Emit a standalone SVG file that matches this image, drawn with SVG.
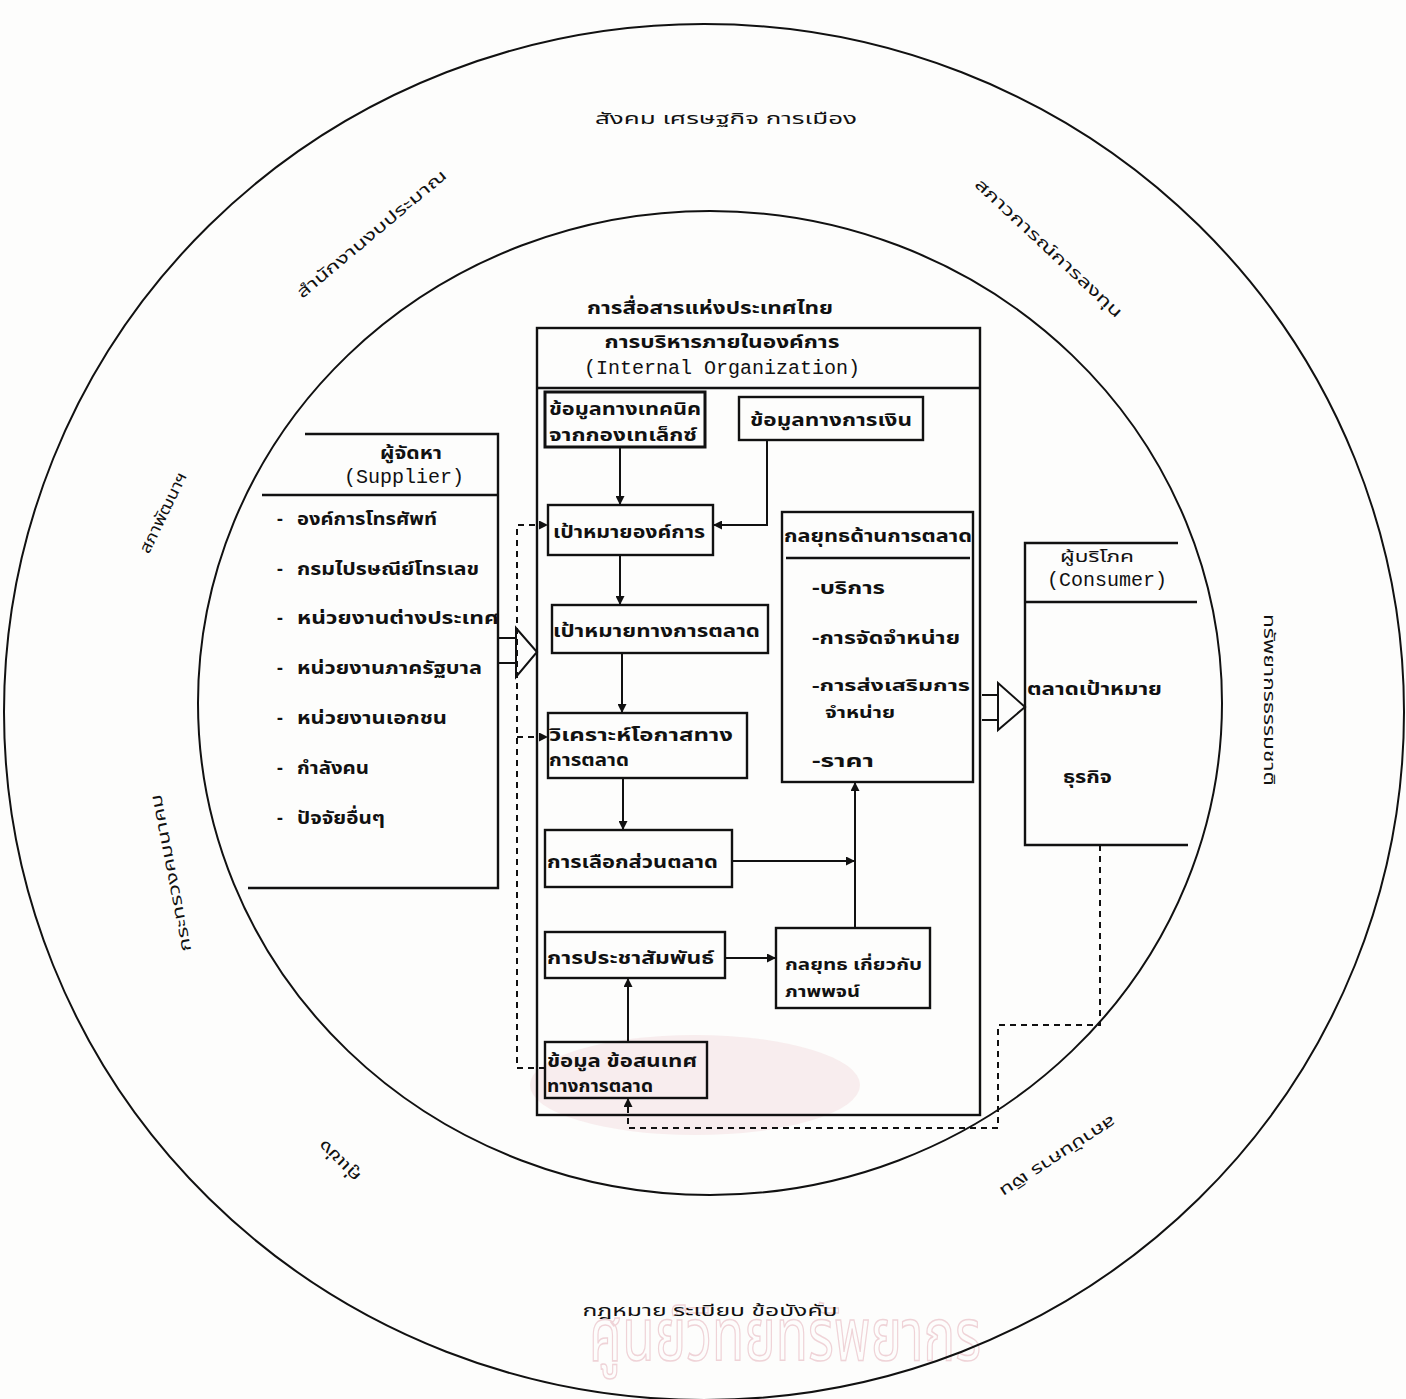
<svg xmlns="http://www.w3.org/2000/svg" width="1406" height="1399" viewBox="0 0 1406 1399">
<defs>
<style>
.th{font-family:"Noto Sans Thai","Tlwg Typist","Loma","Garuda","Noto Sans","DejaVu Sans",sans-serif;fill:#111;}
.b{font-weight:bold;font-size:18px;}
.s{font-size:16px;}
.o{font-size:16px;}
.mono{font-family:"Liberation Mono","DejaVu Sans Mono",monospace;font-size:20px;fill:#111;}
.ln{stroke:#111;stroke-width:2;fill:none;}
.bx{stroke:#111;stroke-width:2.4;fill:none;}
.ds{stroke:#111;stroke-width:2;fill:none;stroke-dasharray:6 5;}
</style>
<marker id="ah" viewBox="0 0 10 10" refX="10" refY="5" markerWidth="9" markerHeight="9" markerUnits="userSpaceOnUse" orient="auto">
<path d="M0,0 L10,5 L0,10 z" fill="#111"/>
</marker>
</defs>
<rect width="1406" height="1399" fill="#fdfdfc"/>
<g id="watermark" opacity="0.5">
<ellipse cx="695" cy="1085" rx="165" ry="50" fill="#f4dde0"/>
<text x="785" y="1360" text-anchor="middle" class="th" style="font-size:74px;fill:none;stroke:#e3aab4;stroke-width:1.6" textLength="392" lengthAdjust="spacingAndGlyphs">ศูนย์วิทยทรัพยากร</text>
</g>
<g id="circles">
<ellipse cx="704" cy="712" rx="700" ry="688" class="ln"/>
<ellipse cx="710" cy="703" rx="512" ry="492" class="ln"/>
</g>
<g id="env-labels">
<text x="726" y="124" text-anchor="middle" class="th o" textLength="262" lengthAdjust="spacingAndGlyphs">สังคม  เศรษฐกิจ  การเมือง</text>
<text x="710" y="1316" text-anchor="middle" class="th o" textLength="255" lengthAdjust="spacingAndGlyphs">กฎหมาย  ระเบียบ  ข้อบังคับ</text>
<text transform="translate(375,238) rotate(-40)" text-anchor="middle" class="th o" textLength="190" lengthAdjust="spacingAndGlyphs">สำนักงานงบประมาณ</text>
<text transform="translate(1045,252) rotate(43)" text-anchor="middle" class="th o" textLength="195" lengthAdjust="spacingAndGlyphs">สภาวการณ์การลงทุน</text>
<text transform="translate(168,515) rotate(-64)" text-anchor="middle" class="th o" textLength="88" lengthAdjust="spacingAndGlyphs">สภาพัฒนาฯ</text>
<text transform="translate(176,872) rotate(-101)" text-anchor="middle" class="th o" textLength="160" lengthAdjust="spacingAndGlyphs">กระทรวงคมนาคม</text>
<text transform="translate(1264,700) rotate(90)" text-anchor="middle" class="th o" textLength="172" lengthAdjust="spacingAndGlyphs">ทรัพยากรธรรมชาติ</text>
<text transform="translate(343,1157) rotate(225)" text-anchor="middle" class="th o" textLength="52" lengthAdjust="spacingAndGlyphs">คู่แข่ง</text>
<text transform="translate(1055,1152) rotate(147)" text-anchor="middle" class="th o" textLength="135" lengthAdjust="spacingAndGlyphs">สถาบันการ เงิน</text>
</g>
<g id="org">
<text x="710" y="314" text-anchor="middle" class="th b" textLength="246" lengthAdjust="spacingAndGlyphs">การสื่อสารแห่งประเทศไทย</text>
<rect x="537" y="328" width="443" height="787" class="bx"/>
<line x1="537" y1="388" x2="980" y2="388" class="bx"/>
<text x="722" y="348" text-anchor="middle" class="th b" textLength="235" lengthAdjust="spacingAndGlyphs">การบริหารภายในองค์การ</text>
<text x="722" y="374" text-anchor="middle" class="mono">(Internal Organization)</text>
</g>
<g id="tech">
<rect x="545" y="392" width="160" height="55" class="bx" style="stroke-width:3"/>
<text x="549" y="415" class="th b" textLength="152" lengthAdjust="spacingAndGlyphs">ข้อมูลทางเทคนิค</text>
<text x="549" y="441" class="th b" textLength="148" lengthAdjust="spacingAndGlyphs">จากกองเทเล็กซ์</text>
</g>
<g id="finance">
<rect x="739" y="397" width="184" height="43" class="bx"/>
<text x="750" y="426" class="th b" textLength="162" lengthAdjust="spacingAndGlyphs">ข้อมูลทางการเงิน</text>
</g>
<g id="org-goal">
<rect x="548" y="505" width="165" height="50" class="bx"/>
<text x="553" y="538" class="th b" textLength="152" lengthAdjust="spacingAndGlyphs">เป้าหมายองค์การ</text>
</g>
<g id="mkt-goal">
<rect x="552" y="605" width="216" height="48" class="bx"/>
<text x="553" y="637" class="th b" textLength="207" lengthAdjust="spacingAndGlyphs">เป้าหมายทางการตลาด</text>
</g>
<g id="analysis">
<rect x="548" y="713" width="199" height="65" class="bx"/>
<text x="549" y="741" class="th b" textLength="184" lengthAdjust="spacingAndGlyphs">วิเคราะห์โอกาสทาง</text>
<text x="549" y="766" class="th b" textLength="80" lengthAdjust="spacingAndGlyphs">การตลาด</text>
</g>
<g id="segment">
<rect x="545" y="830" width="187" height="57" class="bx"/>
<text x="547" y="868" class="th b" textLength="171" lengthAdjust="spacingAndGlyphs">การเลือกส่วนตลาด</text>
</g>
<g id="strategy">
<rect x="782" y="512" width="191" height="270" class="bx"/>
<line x1="786" y1="558" x2="970" y2="558" class="bx"/>
<text x="784" y="542" class="th b" textLength="188" lengthAdjust="spacingAndGlyphs">กลยุทธด้านการตลาด</text>
<text x="812" y="594" class="th b" textLength="73" lengthAdjust="spacingAndGlyphs">-บริการ</text>
<text x="812" y="644" class="th b" textLength="148" lengthAdjust="spacingAndGlyphs">-การจัดจำหน่าย</text>
<text x="812" y="691" class="th b s" textLength="158" lengthAdjust="spacingAndGlyphs">-การส่งเสริมการ</text>
<text x="825" y="718" class="th b s" textLength="70" lengthAdjust="spacingAndGlyphs">จำหน่าย</text>
<text x="812" y="767" class="th b" textLength="62" lengthAdjust="spacingAndGlyphs">-ราคา</text>
</g>
<g id="pr">
<rect x="545" y="932" width="180" height="46" class="bx"/>
<text x="547" y="964" class="th b" textLength="167" lengthAdjust="spacingAndGlyphs">การประชาสัมพันธ์</text>
</g>
<g id="image">
<rect x="776" y="928" width="154" height="80" class="bx"/>
<text x="785" y="970" class="th b s" textLength="137" lengthAdjust="spacingAndGlyphs">กลยุทธ เกี่ยวกับ</text>
<text x="785" y="997" class="th b s" textLength="75" lengthAdjust="spacingAndGlyphs">ภาพพจน์</text>
</g>
<g id="info">
<rect x="545" y="1042" width="162" height="56" class="bx"/>
<text x="547" y="1067" class="th b" textLength="150" lengthAdjust="spacingAndGlyphs">ข้อมูล  ข้อสนเทศ</text>
<text x="547" y="1092" class="th b" textLength="106" lengthAdjust="spacingAndGlyphs">ทางการตลาด</text>
</g>
<g id="supplier">
<path d="M305,434 H498 V888 H248" class="bx"/>
<line x1="262" y1="495" x2="498" y2="495" class="bx"/>
<text x="411" y="459" text-anchor="middle" class="th b" textLength="62" lengthAdjust="spacingAndGlyphs">ผู้จัดหา</text>
<text x="404" y="483" text-anchor="middle" class="mono">(Supplier)</text>
<g class="th b">
<text x="277" y="525">-</text><text x="297" y="525" textLength="140" lengthAdjust="spacingAndGlyphs">องค์การโทรศัพท์</text>
<text x="277" y="575">-</text><text x="297" y="575" textLength="182" lengthAdjust="spacingAndGlyphs">กรมไปรษณีย์โทรเลข</text>
<text x="277" y="624">-</text><text x="297" y="624" textLength="202" lengthAdjust="spacingAndGlyphs">หน่วยงานต่างประเทศ</text>
<text x="277" y="674">-</text><text x="297" y="674" textLength="185" lengthAdjust="spacingAndGlyphs">หน่วยงานภาครัฐบาล</text>
<text x="277" y="724">-</text><text x="297" y="724" textLength="150" lengthAdjust="spacingAndGlyphs">หน่วยงานเอกชน</text>
<text x="277" y="774">-</text><text x="297" y="774" textLength="72" lengthAdjust="spacingAndGlyphs">กำลังคน</text>
<text x="277" y="824">-</text><text x="297" y="824" textLength="88" lengthAdjust="spacingAndGlyphs">ปัจจัยอื่นๆ</text>
</g>
</g>
<g id="consumer">
<path d="M1178,543 H1025 V845 H1188" class="bx"/>
<line x1="1025" y1="602" x2="1197" y2="602" class="bx"/>
<text x="1097" y="562" text-anchor="middle" class="th o" textLength="74" lengthAdjust="spacingAndGlyphs">ผู้บริโภค</text>
<text x="1107" y="586" text-anchor="middle" class="mono">(Consumer)</text>
<text x="1027" y="695" class="th b" textLength="135" lengthAdjust="spacingAndGlyphs">ตลาดเป้าหมาย</text>
<text x="1063" y="783" class="th b" textLength="49" lengthAdjust="spacingAndGlyphs">ธุรกิจ</text>
</g>
<g id="connectors">
<line x1="620" y1="447" x2="620" y2="505" class="ln" marker-end="url(#ah)"/>
<path d="M767,440 V525 H713" class="ln" marker-end="url(#ah)"/>
<line x1="620" y1="555" x2="620" y2="605" class="ln" marker-end="url(#ah)"/>
<line x1="622" y1="653" x2="622" y2="713" class="ln" marker-end="url(#ah)"/>
<line x1="623" y1="778" x2="623" y2="830" class="ln" marker-end="url(#ah)"/>
<path d="M732,861 H855" class="ln" marker-end="url(#ah)"/>
<path d="M855,928 V782" class="ln" marker-end="url(#ah)"/>
<path d="M725,958 H776" class="ln" marker-end="url(#ah)"/>
<path d="M628,1042 V978" class="ln" marker-end="url(#ah)"/>
<path d="M1100,845 V1025 H998 V1128 H628 V1098" class="ds" marker-end="url(#ah)"/>
<path d="M545,1068 H517 V525 H548" class="ds" marker-end="url(#ah)"/>
<path d="M517,737 H548" class="ds" marker-end="url(#ah)"/>
<path d="M498,638 H516 M498,663 H516" class="ln"/>
<polygon points="516,628 537,652 516,677" fill="#fff" class="ln"/>
<path d="M982,695 H998 M982,720 H998" class="ln"/>
<polygon points="998,683 1025,707 998,730" fill="#fff" class="ln"/>
</g>
</svg>
